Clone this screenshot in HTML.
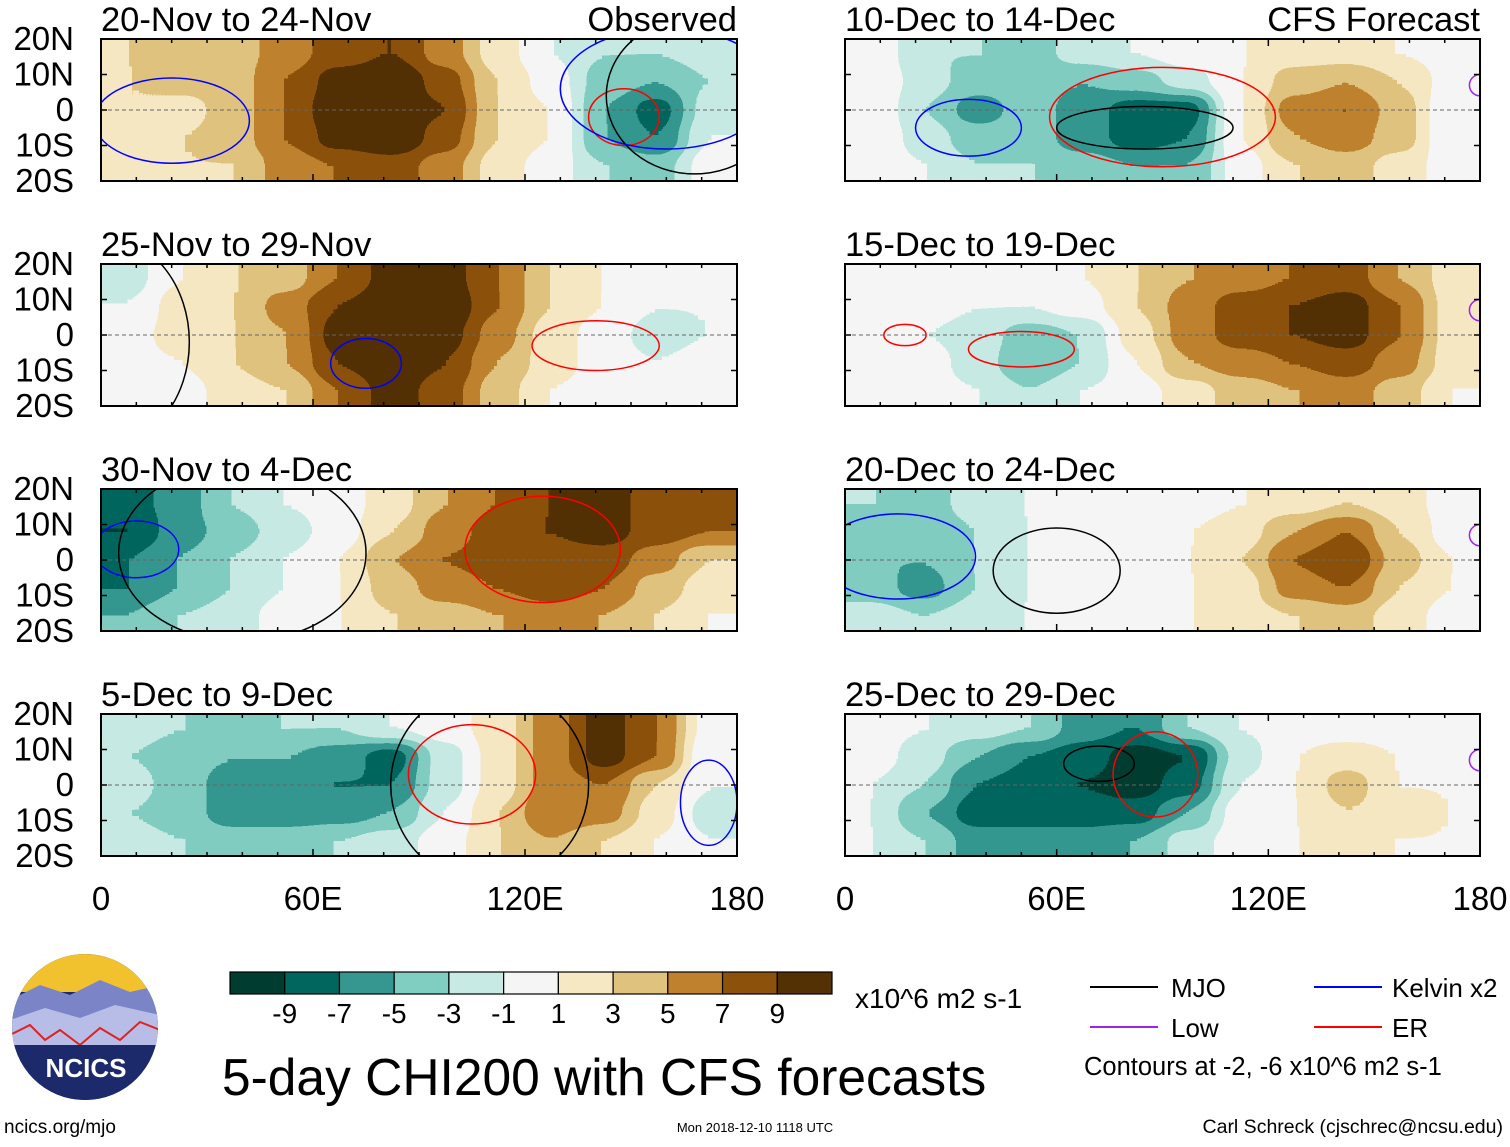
<!DOCTYPE html>
<html><head><meta charset="utf-8"><style>
html,body{margin:0;padding:0;background:#fff;}
body{width:1510px;height:1142px;overflow:hidden;font-family:"Liberation Sans",sans-serif;}
svg text{font-family:"Liberation Sans",sans-serif;}
</style></head><body>
<svg id="chart" width="1510" height="1142" viewBox="0 0 1510 1142" xmlns="http://www.w3.org/2000/svg">
<defs id="defs"></defs>
<g id="panels"></g>
<g id="bottom"></g>
</svg>
<script>
const NS="http://www.w3.org/2000/svg";
const titles=["20-Nov to 24-Nov","25-Nov to 29-Nov","30-Nov to 4-Dec","5-Dec to 9-Dec","10-Dec to 14-Dec","15-Dec to 19-Dec","20-Dec to 24-Dec","25-Dec to 29-Dec"];
const latTicks=["20N","10N","0","10S","20S"];
const lonTicks=["0","60E","120E","180"];
const colorLevels=["-9","-7","-5","-3","-1","1","3","5","7","9"];
const palette=["#003c30","#01665e","#35978f","#80cdc1","#c7eae5","#f5f5f5","#f6e8c3","#dfc27d","#bf812d","#8c510a","#543005"];
// rows: lat bands centred 16N,8N,0,8S,16S ; cols: 15-degree bands 0..180E
const field1=[[3,5,4,6,8,9,6,2,-1,-3,-3,-2],[3,4,4,7,10,11,8,3,0,-4,-5,-3],[3,2,4,7,11,11,9,3,1,-5,-8,-2],[3,3,4,7,10,11,8,3,1,-5,-7,-1],[2,3,3,6,7,8,6,2,0,-3,-4,0]];
const field2=[[-2,1,3,4,7,10,10,7,3,1,0,0],[-1,2,3,6,9,11,11,7,3,1,-1,-1],[0,2,3,5,10,11,10,6,2,0,-2,-1],[0,1,3,5,9,11,9,5,2,0,-1,0],[1,0,2,3,7,10,8,4,1,0,0,0]];
const field3=[[-8,-6,-3,-1,0,2,5,7,9,10,8,8],[-9,-6,-4,-2,0,3,6,8,9,10,8,7],[-7,-5,-3,-1,1,5,7,8,8,8,6,3],[-7,-5,-3,-1,1,4,6,7,8,7,4,2],[-5,-3,-2,0,1,3,4,5,6,5,3,1]];
const field4=[[-2,-3,-4,-3,-3,-1,0,2,6,10,7,0],[-3,-4,-5,-5,-6,-8,-2,2,6,10,7,-1],[-2,-4,-6,-6,-7,-7,-2,2,6,7,3,-1],[-3,-4,-6,-6,-6,-5,-1,3,7,6,2,-2],[-2,-3,-4,-4,-3,-2,0,3,5,3,1,-1]];
const field5=[[1,-3,-3,-4,-2,-1,0,1,2,2,1,0],[1,-2,-4,-4,-5,-4,-2,1,4,5,3,0],[1,-3,-6,-4,-6,-8,-8,1,6,7,4,-1],[1,-2,-4,-4,-6,-8,-7,1,5,6,4,-1],[1,-1,-3,-3,-4,-5,-5,0,3,4,2,0]];
const field6=[[0,0,-1,0,1,3,5,6,7,8,5,2],[0,0,-1,-1,0,3,6,8,9,10,7,2],[0,-1,-2,-4,-3,2,6,8,9,10,7,2],[0,0,-2,-5,-3,1,5,6,7,8,6,2],[0,0,-1,-3,-1,0,2,4,5,6,4,1]];
const field7=[[-3,-4,-2,-1,-1,0,0,1,2,3,2,0],[-5,-5,-3,-1,-1,0,1,2,5,7,3,0],[-5,-5,-3,-1,-1,0,1,3,7,9,4,1],[-4,-6,-3,-1,-1,0,1,2,6,7,3,1],[-2,-3,-2,-1,-1,0,1,2,3,4,2,0]];
const field8=[[0,-1,-2,-3,-6,-7,-3,-1,0,0,0,0],[0,-2,-5,-7,-8,-10,-9,-2,1,2,1,0],[-1,-3,-7,-8,-9,-10,-8,-1,1,4,1,1],[-1,-5,-8,-8,-8,-8,-5,0,1,3,2,1],[-1,-3,-6,-6,-6,-5,-2,0,1,2,1,1]];
const fields=[field1,field2,field3,field4,field5,field6,field7,field8];
// contour ellipses: [type, lon, lat, rxDeg, ryDeg]
const contours1=[["kelvin",20,-3,22,12],["er",148,-2,10,8],["mjo",168,4,25,22],["kelvin",160,6,30,17]];
const contours2=[["kelvin",75,-8,10,7],["er",140,-3,18,7],["mjo",0,-2,25,30]];
const contours3=[["kelvin",10,3,12,8],["er",125,3,22,15],["mjo",40,2,35,25]];
const contours4=[["er",105,3,18,14],["kelvin",172,-5,8,12],["mjo",110,0,28,28]];
const contours5=[["kelvin",35,-5,15,8],["er",90,-2,32,14],["mjo",85,-5,25,6],["low",180,7,3,3]];
const contours6=[["er",17,0,6,3],["er",50,-4,15,5],["low",180,7,3,3]];
const contours7=[["mjo",60,-3,18,12],["kelvin",15,1,22,12],["low",180,7,3,3]];
const contours8=[["mjo",72,6,10,5],["er",88,3,12,12],["low",180,7,3,3]];
const contourSets=[contours1,contours2,contours3,contours4,contours5,contours6,contours7,contours8];
const contourColors={mjo:"#000000",kelvin:"#0000ff",er:"#ff0000",low:"#a020f0"};

const defs=document.getElementById('defs');
const panelsG=document.getElementById('panels');
function mk(tag,attrs,parent){const e=document.createElementNS(NS,tag);for(const k in attrs)e.setAttribute(k,attrs[k]);if(parent)parent.appendChild(e);return e;}
const tops=[39,264,489,714];
const lefts=[101,845], W=[636,635], H=142, PAD=60;
const tableR=palette.map(c=>(parseInt(c.substr(1,2),16)/255).toFixed(4)).join(' ');
const tableG=palette.map(c=>(parseInt(c.substr(3,2),16)/255).toFixed(4)).join(' ');
const tableB=palette.map(c=>(parseInt(c.substr(5,2),16)/255).toFixed(4)).join(' ');

fields.forEach((fld,p)=>{
  const col=p<4?0:1, row=p%4;
  const x0=lefts[col], w=W[col], y0=tops[row];
  const xs=lon=>x0+lon/180*w;
  const ys=lat=>y0+(20-lat)/40*H;
  const g=mk('g',{},panelsG);
  
  
  const f=mk('filter',{id:'f'+p,filterUnits:'userSpaceOnUse',x:x0-PAD,y:y0-PAD,width:w+2*PAD,height:H+2*PAD,'color-interpolation-filters':'sRGB'},defs);
  mk('feGaussianBlur',{stdDeviation:'13 7'},f);
  const ct=mk('feComponentTransfer',{},f);
  mk('feFuncR',{type:'discrete',tableValues:tableR},ct);
  mk('feFuncG',{type:'discrete',tableValues:tableG},ct);
  mk('feFuncB',{type:'discrete',tableValues:tableB},ct);
  const cp=mk('clipPath',{id:'c'+p},defs);
  mk('rect',{x:x0,y:y0,width:w,height:H},cp);
  const clipG=mk('g',{'clip-path':'url(#c'+p+')'},g);
  const hm=mk('g',{filter:'url(#f'+p+')'},clipG);
  
  
  const nr=fld.length, nc=fld[0].length;
  fld.forEach((r,i)=>{
    const latTop=20-i*8, latBot=latTop-8;
    r.forEach((v,j)=>{
      const vv=Math.max(-10.9,Math.min(10.9,v));
      const gv=Math.round((vv+11)/22*255);
      let x1=xs(j*15)-0.5, x2=xs(j*15+15)+0.5, y1=ys(latTop)-0.5, y2=ys(latBot)+0.5;
      if(j===0)x1-=PAD; if(j===nc-1)x2+=PAD; if(i===0)y1-=PAD; if(i===nr-1)y2+=PAD;
      const c=mk('rect',{x:x1,y:y1,width:x2-x1,height:y2-y1,fill:`rgb(${gv},${gv},${gv})`},hm);
      
      
    });
  });
  const eq=mk('line',{x1:x0,x2:x0+w,y1:ys(0),y2:ys(0),stroke:'#666','stroke-width':1,'stroke-dasharray':'4 3'},g);
  
  
  const cg=mk('g',{'clip-path':'url(#c'+p+')'},g);
  contourSets[p].forEach(c=>{
    const e=mk('ellipse',{cx:xs(c[1]),cy:ys(c[2]),rx:xs(c[3])-xs(0),ry:ys(0)-ys(c[4]),fill:'none',stroke:contourColors[c[0]],'stroke-width':1.5},cg);
    
    
  });
  const fr=mk('rect',{x:x0,y:y0,width:w,height:H,fill:'none',stroke:'#000','stroke-width':2},g);
  
  
  for(let lon=0;lon<=180;lon+=10){
    const L=(lon%60===0)?7:4;
    mk('line',{x1:xs(lon),x2:xs(lon),y1:y0+H,y2:y0+H-L,stroke:'#000','stroke-width':1.5},g);
    mk('line',{x1:xs(lon),x2:xs(lon),y1:y0,y2:y0+L,stroke:'#000','stroke-width':1.5},g);
  }
  latTicks.forEach((t,k)=>{
    const yy=y0+k*H/4;
    mk('line',{x1:x0,x2:x0+6,y1:yy,y2:yy,stroke:'#000','stroke-width':1.5},g);
    mk('line',{x1:x0+w,x2:x0+w-6,y1:yy,y2:yy,stroke:'#000','stroke-width':1.5},g);
    if(col===0){
      const tx=mk('text',{x:74,y:yy+11,'font-size':33,'text-anchor':'end'},g);
      tx.textContent=t;
      
      
    }
  });
  const tt=mk('text',{x:x0,y:y0-8,'font-size':34.5},g);
  tt.textContent=titles[p];
  
  
  if(row===0){
    const lb=mk('text',{x:x0+w,y:y0-8,'font-size':34.5,'text-anchor':'end'},g);
    lb.textContent=col===0?'Observed':'CFS Forecast';
    
    
  }
  if(row===3){
    lonTicks.forEach((t,k)=>{
      const lx=mk('text',{x:xs(k*60),y:910,'font-size':33,'text-anchor':'middle'},g);
      lx.textContent=t;
      
      
    });
  }
});

const bottom=document.getElementById('bottom');
const cb=mk('g',{},bottom);


const cbx=230,cbw=602,cby=972,cbh=22,bw=cbw/palette.length;
palette.forEach((c,i)=>{
  const r=mk('rect',{x:cbx+i*bw,y:cby,width:bw,height:cbh,fill:c,stroke:'#000','stroke-width':1.2},cb);
  
  
});
colorLevels.forEach((t,i)=>{
  const tx=mk('text',{x:cbx+(i+1)*bw,y:1023,'font-size':28,'text-anchor':'middle'},cb);
  tx.textContent=t;
  
  
});
function txt(x,y,s,str,name,anchor){const t=mk('text',{x:x,y:y,'font-size':s,'text-anchor':anchor||'start'},bottom);t.textContent=str;return t;}
txt(855,1008,28,'x10^6 m2 s-1','colorbar-units');
txt(222,1095,51.5,'5-day CHI200 with CFS forecasts','chart-title');
const leg=[["MJO","#000",1090,1171,987],["Kelvin x2","#0000ff",1314,1392,987],["Low","#a020f0",1090,1171,1027],["ER","#ff0000",1314,1392,1027]];
leg.forEach(l=>{
  const ln=mk('line',{x1:l[2],x2:l[2]+68,y1:l[4],y2:l[4],stroke:l[1],'stroke-width':2},bottom);
  
  
  txt(l[3],l[4]+10,26,l[0],'legend-entry');
});
txt(1084,1075,25.5,'Contours at -2, -6 x10^6 m2 s-1','contour-note');
txt(4,1133,19,'ncics.org/mjo','source-url');
txt(755,1132,13,'Mon 2018-12-10 1118 UTC','timestamp','middle');
txt(1503,1133,19.5,'Carl Schreck (cjschrec@ncsu.edu)','author-credit','end');
const lg=mk('g',{},bottom);


const lcp=mk('clipPath',{id:'logoclip'},defs);
mk('circle',{cx:85,cy:1027,r:73},lcp);
const lgi=mk('g',{'clip-path':'url(#logoclip)'},lg);
mk('rect',{x:10,y:952,width:150,height:150,fill:'#1c2a6b'},lgi);
mk('rect',{x:10,y:952,width:150,height:40,fill:'#f2c12e'},lgi);
mk('path',{d:'M10 1000 L40 985 L70 995 L100 980 L130 992 L160 985 L160 1030 L10 1030 Z',fill:'#7c84c8'},lgi);
mk('path',{d:'M10 1020 L45 1008 L80 1018 L115 1005 L160 1015 L160 1050 L10 1050 Z',fill:'#b7bde6'},lgi);
mk('path',{d:'M10 1035 L30 1025 L45 1040 L60 1030 L80 1045 L100 1028 L120 1040 L140 1022 L160 1030',fill:'none',stroke:'#d22','stroke-width':2},lgi);
mk('rect',{x:10,y:1045,width:150,height:60,fill:'#1c2a6b'},lgi);
const lt=mk('text',{x:86,y:1077,'font-size':26,'font-weight':'bold',fill:'#fff','text-anchor':'middle'},lg);
lt.textContent='NCICS';


</script>
</body></html>
